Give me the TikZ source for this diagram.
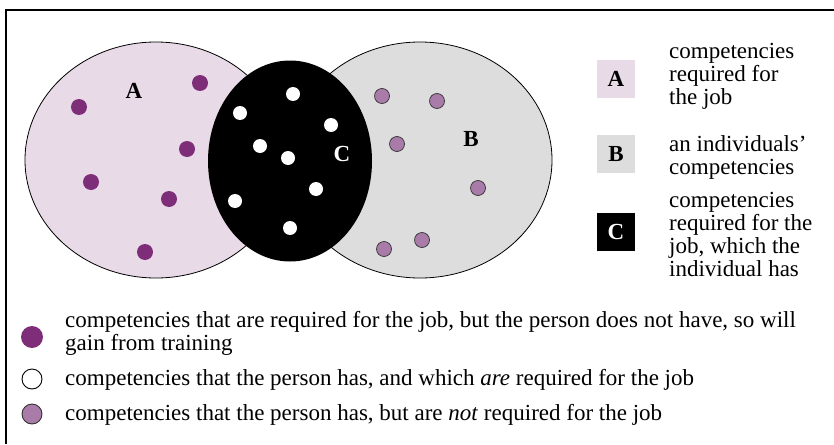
\documentclass[tikz,border=0pt]{standalone}
\usepackage{fontspec}
\setmainfont{Liberation Serif}
\usetikzlibrary{shapes.geometric}

\definecolor{jobpink}{HTML}{E8DAE6}
\definecolor{owngrey}{HTML}{DDDDDD}
\definecolor{gapplum}{HTML}{7E2D78}
\definecolor{extramauve}{HTML}{A87BA8}

\begin{document}
\begin{tikzpicture}[x=1pt, y=-1pt,
        every node/.style={font=\fontsize{23}{23}\selectfont},
        setshape/.style={ellipse, inner sep=0pt},
        setlabel/.style={font=\fontsize{23}{23}\selectfont\bfseries},
        needdot/.style={circle, fill=gapplum, inner sep=0pt, minimum size=16pt},
        hasdot/.style={circle, fill=white, inner sep=0pt, minimum size=14pt},
        extradot/.style={circle, draw=black!80, line width=0.7pt, fill=extramauve, inner sep=0pt, minimum size=15pt},
        keybox/.style={rectangle, inner sep=0pt, minimum size=38pt, font=\fontsize{23}{23}\selectfont\bfseries},
        keytext/.style={anchor=west, align=left, inner sep=0pt}
    ]
        \useasboundingbox (0,0) rectangle (834,444);

        % frame
        \draw [line width=1.2pt] (834,10) -- (6,10) -- (6,444);

        % the three sets
        \node [setshape, draw, line width=0.8pt, fill=jobpink, minimum width=262pt, minimum height=236pt] (setA) at (156,160) {};
        \node [setshape, draw, line width=0.8pt, fill=owngrey, minimum width=264pt, minimum height=236pt] (setB) at (420,160) {};
        \node [setshape, fill=black, minimum width=164pt, minimum height=201pt] (setC) at (290,161) {};

        \node [setlabel] (labA) at (134,91) {A};
        \node [setlabel] (labB) at (471,139) {B};
        \node [setlabel, text=white] (labC) at (342,154) {C};

        % competencies in each part
        \foreach \x/\y [count=\i] in {79/107, 200/83, 187/149, 91/182, 169/199, 145/252}
            \node [needdot] (need\i) at (\x,\y) {};
        \foreach \x/\y [count=\i] in {293/94, 240/113, 331/125, 260/146, 288/158, 316/189, 235/201, 290/228}
            \node [hasdot] (has\i) at (\x,\y) {};
        \foreach \x/\y [count=\i] in {382/96, 437/101, 397/144, 478/188, 422/240, 384/249}
            \node [extradot] (extra\i) at (\x,\y) {};

        % key to the sets
        \node [keybox, fill=jobpink] (keyA) at (616,79) {A};
        \node [keybox, fill=owngrey] (keyB) at (616,154) {B};
        \node [keybox, fill=black, text=white] (keyC) at (616,232) {C};

        \node [keytext] (textA) at (669,76) {competencies\\required for\\the job};
        \node [keytext] (textB) at (669,157) {an individuals'\\competencies};
        \node [keytext] (textC) at (669,234) {competencies\\required for the\\job, which the\\individual has};

        % key to the dots
        \node [needdot, minimum size=22pt] (keyNeed) at (32,337) {};
        \node [hasdot, draw=black, line width=0.9pt, minimum size=20pt] (keyHas) at (32,379) {};
        \node [extradot, line width=0.9pt, minimum size=20pt] (keyExtra) at (32,414) {};

        \node [keytext] (textNeed) at (65,333) {competencies that are required for the job, but the person does not have, so will\\gain from training};
        \node [keytext] (textHas) at (65,380) {competencies that the person has, and which \textit{are} required for the job};
        \node [keytext] (textExtra) at (65,415) {competencies that the person has, but are \textit{not} required for the job};
    \end{tikzpicture}
\end{document}
